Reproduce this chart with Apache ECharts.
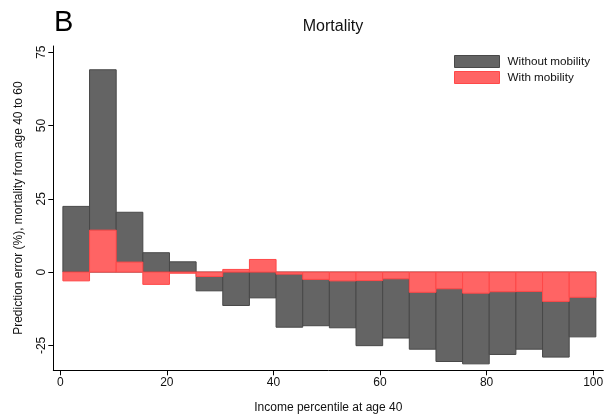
<!DOCTYPE html>
<html>
<head>
<meta charset="utf-8">
<script src="https://cdn.jsdelivr.net/npm/echarts@6/dist/echarts.min.js"></script>
<style>html,body{margin:0;padding:0;background:#fff}#c{width:613px;height:419px}</style>
</head>
<body>
<div id="c"></div>
<script>
// Bin centers (income percentile), bins are 5 wide
const binCenters = [3, 8, 13, 18, 23, 28, 33, 38, 43, 48, 53, 58, 63, 68, 73, 78, 83, 88, 93, 98];
const withoutMobility = [22.4, 69.0, 20.4, 6.6, 3.5, -6.4, -11.4, -8.8, -18.8, -18.3, -19.0, -25.1, -22.5, -26.3, -30.5, -31.3, -28.1, -26.3, -29.0, -22.1];
const withMobility = [-3.0, 14.3, 3.4, -4.2, -0.4, -1.5, 0.9, 4.3, -0.7, -2.5, -3.0, -2.9, -2.3, -6.9, -5.7, -7.2, -6.7, -6.6, -10.0, -8.6];
const xTicks = [0, 20, 40, 60, 80, 100];
const yTicks = [-25, 0, 25, 50, 75];
const binWidth = 5;

const FONT = 'Liberation Sans, Arial, Helvetica, sans-serif';
const GRAY = '#646464', GRAY_B = '#484848';
const RED = '#ff6464', RED_B = '#ff4848';

function makeRender(fill, stroke) {
  return function (params, api) {
    const x = api.value(0), v = api.value(1);
    const p0 = api.coord([x - binWidth / 2, 0]);
    const p1 = api.coord([x + binWidth / 2, v]);
    return {
      type: 'rect',
      shape: { x: p0[0], y: Math.min(p0[1], p1[1]), width: p1[0] - p0[0], height: Math.abs(p1[1] - p0[1]) },
      style: { fill: fill, stroke: stroke, lineWidth: 1 }
    };
  };
}

const chart = echarts.init(document.getElementById('c'), null, { renderer: 'canvas' });
chart.setOption({
  animation: false,
  backgroundColor: '#fff',
  textStyle: { fontFamily: FONT },
  title: {
    text: 'Mortality', left: 328, top: 14, textAlign: 'center',
    textStyle: { fontSize: 16, fontWeight: 'normal', color: '#111', fontFamily: FONT }
  },
  graphic: [{
    type: 'text', left: 54, top: 8,
    style: { text: 'B', fontSize: 29, fill: '#000', fontFamily: FONT }
  }],
  legend: {
    orient: 'vertical', left: 454, top: 55, padding: 0, itemWidth: 45, itemHeight: 12, itemGap: 3,
    icon: 'rect',
    textStyle: { fontSize: 11.7, color: '#111', fontFamily: FONT, padding: [0, 0, 0, 3] },
    data: [
      { name: 'Without mobility', itemStyle: { color: GRAY, borderColor: GRAY_B, borderWidth: 1 } },
      { name: 'With mobility', itemStyle: { color: RED, borderColor: RED_B, borderWidth: 1 } }
    ]
  },
  grid: { left: 53.3, right: 9.7, top: 46, bottom: 48.7, containLabel: false },
  xAxis: {
    type: 'value', min: -1.3, max: 101.9,
    name: 'Income percentile at age 40', nameLocation: 'middle', nameGap: 31,
    nameTextStyle: { fontSize: 12, color: '#111', fontFamily: FONT },
    axisLine: { show: true, onZero: false, lineStyle: { color: '#000', width: 1 } },
    axisTick: { show: true, length: 5, customValues: xTicks, lineStyle: { color: '#000' } },
    axisLabel: { customValues: xTicks, fontSize: 12, color: '#111', margin: 6, fontFamily: FONT },
    splitLine: { show: false }
  },
  yAxis: {
    type: 'value', min: -33.5, max: 77.1,
    name: 'Prediction error (%), mortality from age 40 to 60', nameLocation: 'middle', nameGap: 29,
    nameTextStyle: { fontSize: 12, color: '#111', fontFamily: FONT },
    axisLine: { show: true, onZero: false, lineStyle: { color: '#000', width: 1 } },
    axisTick: { show: true, length: 5, customValues: yTicks, lineStyle: { color: '#000' } },
    axisLabel: { customValues: yTicks, rotate: 90, fontSize: 12, color: '#111', margin: 6, fontFamily: FONT },
    splitLine: { show: false }
  },
  series: [
    {
      name: 'Without mobility', type: 'custom', itemStyle: { color: GRAY },
      renderItem: makeRender(GRAY, GRAY_B),
      data: binCenters.map((c, i) => [c, withoutMobility[i]]), z: 2
    },
    {
      name: 'With mobility', type: 'custom', itemStyle: { color: RED },
      renderItem: makeRender(RED, RED_B),
      data: binCenters.map((c, i) => [c, withMobility[i]]), z: 3
    }
  ]
});
</script>
</body>
</html>
